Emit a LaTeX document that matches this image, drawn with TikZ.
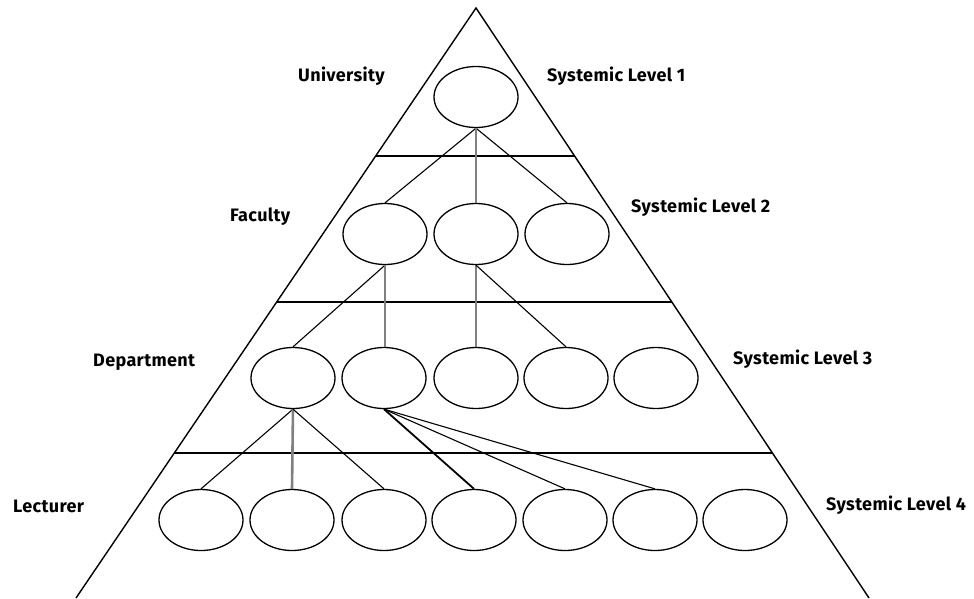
\documentclass[tikz,border=0pt]{standalone}
\usepackage{fontspec}
\setmainfont{Fira Sans}[LetterSpace=2]
\usetikzlibrary{calc}
\usetikzlibrary{shapes.geometric}

\tikzset{
  unit/.style={ellipse, draw, line width=1.3pt, inner sep=0pt, minimum width=84pt, minimum height=61pt},
  lvl/.style={anchor=west, inner sep=0pt, font=\bfseries\fontsize{18}{18}\selectfont},
  link/.style={draw, line width=1.1pt},
  trunk/.style={draw=black!50, line width=2.6pt}
}

\begin{document}
\begin{tikzpicture}[x=1pt, y=-1pt]
    \useasboundingbox (0,0) rectangle (974,598);

    % pyramid
    \coordinate (top) at (476,8);
    \coordinate (bl) at (76,598);
    \coordinate (br) at (869,598);
    \draw[line width=1.4pt] (bl) -- (top) -- (br);
    \draw[line width=1.4pt] ($(top)!0.2508!(bl)$) -- ($(top)!0.2508!(br)$);
    \draw[line width=1.4pt] ($(top)!0.498!(bl)$) -- ($(top)!0.498!(br)$);
    \draw[line width=1.4pt] ($(top)!0.754!(bl)$) -- ($(top)!0.754!(br)$);

    % units
    \node[unit] (u1) at (476,97) {};

    \node[unit] (f1) at (385,234) {};
    \node[unit] (f2) at (476,234) {};
    \node[unit] (f3) at (567,234) {};

    \node[unit] (d1) at (293,378) {};
    \node[unit] (d2) at (384,378) {};
    \node[unit] (d3) at (476,378) {};
    \node[unit] (d4) at (566,378) {};
    \node[unit] (d5) at (656,378) {};

    \node[unit] (l1) at (201,520) {};
    \node[unit] (l2) at (292,520) {};
    \node[unit] (l3) at (384,520) {};
    \node[unit] (l4) at (474,520) {};
    \node[unit] (l5) at (565,520) {};
    \node[unit] (l6) at (655,520) {};
    \node[unit] (l7) at (745,520) {};

    % links
    \draw[link] (u1.south) -- (f1.north);
    \draw[link] (u1.south) -- (f3.north);
    \draw[trunk] (u1.south) -- (f2.north);

    \draw[link] (f1.south) -- (d1.north);
    \draw[trunk] (f1.south) -- (f1.south |- d2.north);
    \draw[trunk] (f2.south) -- (d3.north);
    \draw[link] (f2.south) -- (d4.north);

    \draw[link] (d1.south) -- (l1.north);
    \draw[trunk] (d1.south) -- (l2.north);
    \draw[link] (d1.south) -- (l3.north);

    \draw[link, line width=1.8pt] (d2.south) -- (l4.north);
    \draw[link] (d2.south) -- (l5.north);
    \draw[link] (d2.south) -- (l6.north);

    % labels
    \node[lvl] (uni) at (298,76) {University};
    \node[lvl] (fac) at (230,217) {Faculty};
    \node[lvl] (dep) at (93,362) {Department};
    \node[lvl] (lec) at (13,506) {Lecturer};

    \node[lvl] (sl1) at (547,76) {Systemic Level 1};
    \node[lvl] (sl2) at (631,207) {Systemic Level 2};
    \node[lvl] (sl3) at (733,359) {Systemic Level 3};
    \node[lvl] (sl4) at (826,505) {Systemic Level 4};
\end{tikzpicture}
\end{document}
